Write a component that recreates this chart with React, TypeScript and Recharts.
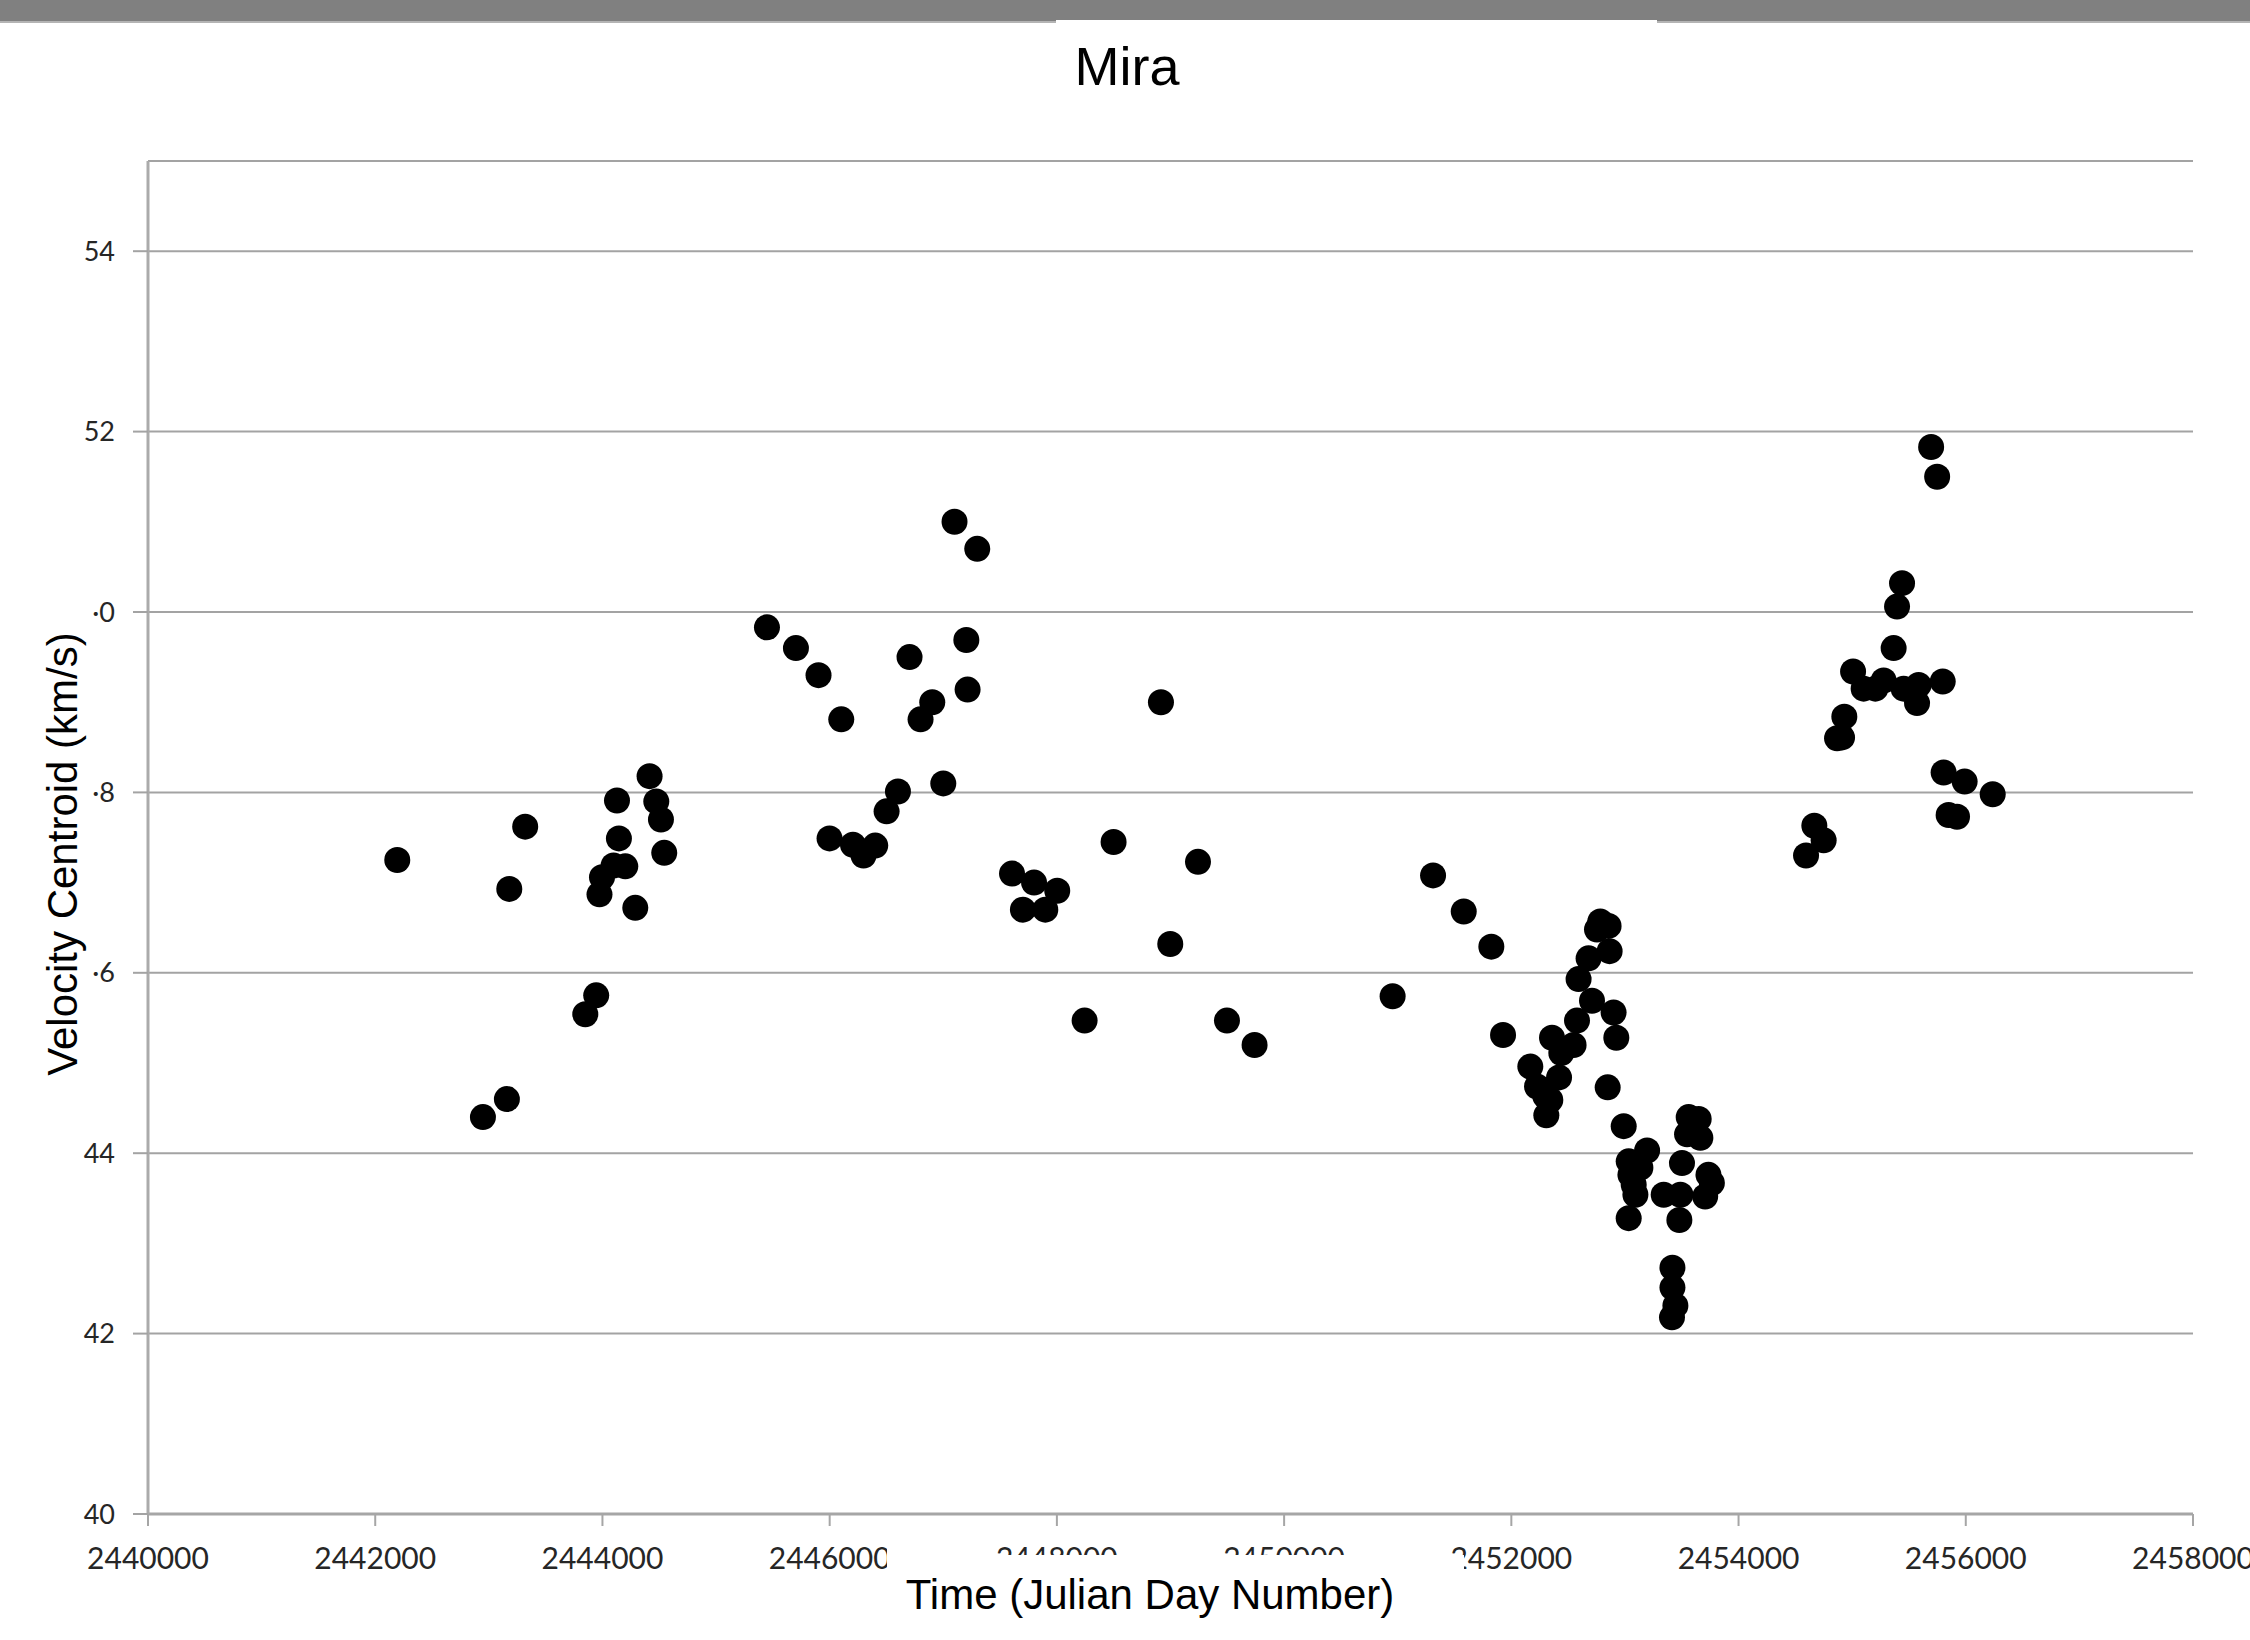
import { ScatterChart, Scatter, XAxis, YAxis, CartesianGrid } from 'recharts';

// Julian day of each observation and the measured velocity centroid (km/s)
const julianDays = [
  2442194, 2442948, 2443159, 2443180, 2443320, 2443849, 2443945, 2443974, 2443996, 2444098,
  2444128, 2444145, 2444201, 2444289, 2444415, 2444474, 2444515, 2444544,
  2445448, 2445703, 2445902, 2445999, 2446102, 2446205, 2446298, 2446401, 2446501, 2446601,
  2446703, 2446800, 2446903, 2447000, 2447099, 2447203, 2447214, 2447299, 2447605, 2447701,
  2447799, 2447898, 2448003, 2448244, 2448499, 2448916, 2448998, 2449242, 2449497, 2449740,
  2450955, 2451311, 2451581, 2451824, 2451927, 2452167, 2452226, 2452299, 2452308, 2452343,
  2452358, 2452440, 2452420, 2452548, 2452578, 2452592, 2452680, 2452710, 2452754, 2452783,
  2452856, 2452865, 2452900, 2452924, 2452848, 2452989, 2453033, 2453048, 2453077, 2453092,
  2453136, 2453195, 2453033, 2453341, 2453488, 2453479, 2453502, 2453547, 2453561, 2453649,
  2453664, 2453706, 2453735, 2453765, 2453418, 2453418, 2453444, 2453414,
  2454594, 2454667, 2454749, 2454867, 2454911, 2454931, 2455008, 2455101, 2455204, 2455277,
  2455365, 2455395, 2455439, 2455453, 2455571, 2455585, 2455695, 2455748, 2455797, 2455805,
  2455849, 2455923, 2455990, 2456237,
];

const velocities = [
  47.25, 44.4, 44.6, 46.93, 47.62, 45.54, 45.75, 46.87, 47.06, 47.19,
  47.91, 47.49, 47.18, 46.72, 48.18, 47.9, 47.7, 47.33,
  49.83, 49.6, 49.3, 47.49, 48.81, 47.42, 47.3, 47.41, 47.79, 48.01,
  49.5, 48.81, 49.0, 48.1, 51.0, 49.69, 49.14, 50.7, 47.1, 46.7,
  47.0, 46.7, 46.91, 45.47, 47.45, 49.0, 46.32, 47.23, 45.47, 45.2,
  45.74, 47.08, 46.68, 46.29, 45.31, 44.96, 44.74, 44.63, 44.42, 44.59,
  45.28, 45.11, 44.84, 45.2, 45.47, 45.93, 46.16, 45.69, 46.48, 46.57,
  46.52, 46.24, 45.56, 45.28, 44.73, 44.3, 43.91, 43.76, 43.65, 43.54,
  43.84, 44.03, 43.28, 43.54, 43.54, 43.26, 43.89, 44.21, 44.4, 44.38,
  44.17, 43.52, 43.76, 43.67, 42.73, 42.51, 42.31, 42.18,
  47.3, 47.63, 47.47, 48.6, 48.61, 48.84, 49.34, 49.15, 49.15, 49.24,
  49.6, 50.06, 50.32, 49.15, 48.99, 49.19, 51.83, 51.5, 49.23, 48.22,
  47.75, 47.73, 48.12, 47.98,
];

const xTicks = [2440000, 2442000, 2444000, 2446000, 2448000, 2450000, 2452000, 2454000, 2456000, 2458000];
const yTicks = [40, 42, 44, 46, 48, 50, 52, 54];
// labels as they appear on the scanned chart (first digit of 46/48/50 lost)
const yTickLabels = ['40', '42', '44', '·6', '·8', '·0', '52', '54'];

const points = julianDays.map((jd, i) => ({ jd, v: velocities[i] }));

const Dot = (props: any) => <circle cx={props.cx} cy={props.cy} r={13} fill="#000" />;

export default function App() {
  return (
    <div style={{ position: 'absolute', left: 0, top: 0, width: 2250, height: 1640, background: '#fff', overflow: 'hidden' }}>
      <ScatterChart width={2250} height={1640} margin={{ top: 161, right: 57, bottom: 0, left: 0 }}>
        <CartesianGrid vertical={false} stroke="#a3a3a3" strokeWidth={2} />
        <XAxis
          type="number"
          dataKey="jd"
          domain={[2440000, 2458000]}
          ticks={xTicks}
          interval={0}
          height={126}
          tickSize={12}
          tickMargin={22}
          axisLine={{ stroke: '#a6a6a6', strokeWidth: 3 }}
          tickLine={{ stroke: '#a6a6a6', strokeWidth: 2 }}
          tick={{ fontFamily: 'Lato', fontSize: 30, fill: '#262626' }}
        />
        <YAxis
          type="number"
          dataKey="v"
          domain={[40, 55]}
          ticks={yTicks}
          interval={0}
          width={148}
          tickSize={15}
          tickMargin={18}
          tickFormatter={(val: number) => yTickLabels[yTicks.indexOf(val)] ?? String(val)}
          axisLine={{ stroke: '#ababab', strokeWidth: 3 }}
          tickLine={{ stroke: '#a3a3a3', strokeWidth: 2 }}
          tick={{ fontFamily: 'Lato', fontSize: 27, fill: '#262626' }}
        />
        <Scatter data={points} isAnimationActive={false} shape={Dot} />
      </ScatterChart>
      <svg width={2250} height={1640} style={{ position: 'absolute', left: 0, top: 0, pointerEvents: 'none' }}>
        <rect x={0} y={0} width={2250} height={21} fill="#808080" />
        <rect x={0} y={21} width={2250} height={2} fill="#b4b4b4" />
        <rect x={1056} y={20} width={601} height={4} fill="#fff" />
        {/* white patches that hide parts of the tick labels in the scan */}
        <rect x={887} y={1555} width={577} height={19} fill="#fff" />
        <rect x={887} y={1536} width={100} height={38} fill="#fff" />
        <text x={1127} y={85} textAnchor="middle" fontFamily="Liberation Sans, Arial" fontSize={54} fill="#000">
          Mira
        </text>
        <text
          x={62}
          y={854}
          transform="rotate(-90 62 854)"
          textAnchor="middle"
          dominantBaseline="central"
          fontFamily="Liberation Sans, Arial"
          fontSize={42}
          fill="#000"
        >
          Velocity Centroid (km/s)
        </text>
        <text x={1150} y={1609} textAnchor="middle" fontFamily="Liberation Sans, Arial" fontSize={42} fill="#000">
          Time (Julian Day Number)
        </text>
      </svg>
    </div>
  );
}
